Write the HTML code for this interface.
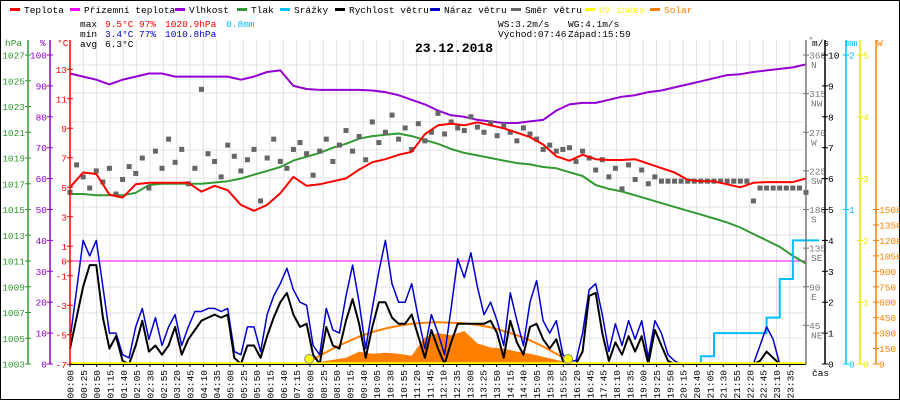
<!DOCTYPE html>
<html><head><meta charset="utf-8"><title>Meteo 23.12.2018</title>
<style>
html,body{margin:0;padding:0;background:#fff;}
svg{display:block;font-family:"Liberation Mono","DejaVu Sans Mono",monospace;}
</style></head>
<body>
<svg id="chart" width="900" height="400" viewBox="0 0 900 400" xmlns="http://www.w3.org/2000/svg">
<rect x="0.5" y="0.5" width="899" height="399" fill="#fff" stroke="#000"/>
<g id="grid"></g>
<g id="plot"></g>
<g id="axes"></g>
<g id="legend" font-size="9.5"></g>
<g font-size="9.5">
 <text x="80" y="27" fill="#000">max</text>
 <text x="105" y="27" fill="#ff0000">9.5°C</text>
 <text x="139" y="27" fill="#ff0000">97%</text>
 <text x="165" y="27" fill="#ff0000">1020.9hPa</text>
 <text x="226" y="27" fill="#00bfff">0.8mm</text>
 <text x="80" y="37" fill="#000">min</text>
 <text x="105" y="37" fill="#0000cc">3.4°C</text>
 <text x="139" y="37" fill="#0000cc">77%</text>
 <text x="165" y="37" fill="#0000cc">1010.8hPa</text>
 <text x="80" y="47" fill="#000">avg</text>
 <text x="105" y="47" fill="#000">6.3°C</text>
 <text x="498" y="27" fill="#000">WS:3.2m/s</text>
 <text x="568" y="27" fill="#000">WG:4.1m/s</text>
 <text x="498" y="37" fill="#000">Východ:07:46</text>
 <text x="568" y="37" fill="#000">Západ:15:59</text>
</g>
<text x="415" y="52" font-size="13" font-weight="bold" fill="#000">23.12.2018</text>
</svg>
<script>
const xLabels=["00:00","00:25","00:50","01:15","01:40","02:05","02:30","02:55","03:20","03:45","04:10","04:35","05:00","05:25","05:50","06:15","06:40","07:15","08:00","08:25","08:50","09:15","09:40","10:05","10:30","10:55","11:20","11:45","12:10","12:35","13:00","13:25","13:50","14:15","14:40","15:05","15:30","15:55","16:20","16:45","17:45","18:10","18:35","19:00","19:25","19:50","20:15","20:40","21:05","21:30","21:55","22:20","22:45","23:10","23:35"];
const tempC=[5.0,6.0,5.9,4.5,4.3,5.2,5.3,5.3,5.3,5.3,4.7,5.1,4.8,3.8,3.4,3.8,4.6,5.7,5.1,5.2,5.4,5.6,6.2,6.7,6.9,7.2,7.4,8.6,9.2,9.3,9.2,9.4,9.2,9.0,8.7,8.4,7.9,7.1,6.8,7.2,6.9,6.85,6.85,6.9,6.6,6.3,6.0,5.5,5.4,5.4,5.2,5.0,5.3,5.35,5.35,5.35,5.6];
const humidity=[94,93,92,90.5,92,93,94,94,93,93,93,93,93,92,93,94.5,95,90,89,88.7,88.7,88.7,88.7,88.5,88,87,85.5,84,82,80.5,80,79,78.5,78,78,78.5,79,82,84,84.5,84.5,85.5,86.5,87,88,88.5,89.5,90.5,91.5,92.5,93.5,93.8,94.5,95,95.5,96,97];
const pressure=[1016.2,1016.2,1016.1,1016.1,1016.1,1016.3,1016.9,1017.0,1017.0,1017.0,1017.0,1017.1,1017.2,1017.4,1017.7,1018.0,1018.3,1018.8,1019.1,1019.4,1019.8,1020.1,1020.5,1020.7,1020.8,1020.9,1020.7,1020.4,1020.1,1019.7,1019.4,1019.2,1019.0,1018.8,1018.6,1018.5,1018.3,1018.2,1017.9,1017.6,1016.9,1016.6,1016.4,1016.1,1015.8,1015.5,1015.2,1014.9,1014.6,1014.3,1014.0,1013.6,1013.1,1012.6,1012.1,1011.4,1010.8];
const rainMm=[0,0,0,0,0,0,0,0,0,0,0,0,0,0,0,0,0,0,0,0,0,0,0,0,0,0,0,0,0,0,0,0,0,0,0,0,0,0,0,0,0,0,0,0,0,0,0,0,0.05,0.2,0.2,0.2,0.2,0.3,0.55,0.8,0.8];
const solarW=[0,0,0,0,0,0,0,0,0,0,0,0,0,0,0,0,0,0,0,20,40,60,120,100,110,100,80,260,300,280,320,200,160,150,120,100,70,40,10,0,0,0,0,0,0,0,0,0,0,0,0,0,0,0,0,0,0];
const solarClear=[0,0,0,0,0,0,0,0,0,0,0,0,0,0,0,0,0,0,0,80,150,210,265,310,345,370,390,400,405,400,395,380,355,320,280,230,170,100,20];
const sunEvents=[18.2,37.9];
const windSpeed=[0.5,1.5,2.5,3.2,3.2,1.5,0.5,0.9,0.1,0,0.6,1.4,0.4,0.6,0.3,0.6,1.2,0.3,0.8,1.1,1.4,1.5,1.6,1.5,1.6,0.2,0,0.6,0.6,0.2,0.9,1.5,2.0,2.3,1.6,1.2,1.3,0.3,0,1.2,0.6,0.5,1.4,2.1,1.3,0.2,1.2,2.0,2.0,1.5,1.3,1.3,1.6,0.9,0.2,1.1,0.5,0,0.7,1.3,1.3,1.3,1.3,1.3,1.4,1.0,0.2,1.4,0.7,0.3,1.2,1.3,0.8,0.5,0.8,0.1,0,0,0.4,2.2,2.3,1.0,0.1,0.7,0.3,0.9,0.4,0.9,0,1.1,0.6,0.1,0,0,0,0,0,0,0,0,0,0,0,0,0,0.1,0.4,0.2,0,0,0,0,0];
const windGust=[0.8,2.4,4.0,3.5,4.0,2.5,1.0,1.0,0.3,0.2,1.2,1.8,0.8,1.5,0.6,1.2,1.6,0.6,1.2,1.7,1.7,1.8,1.8,1.7,1.8,0.4,0.3,1.2,1.2,0.4,1.6,2.2,2.6,3.1,2.4,2.0,1.9,0.6,0.3,1.8,1.1,1.0,2.2,3.2,2.0,0.5,1.8,3.0,4.0,2.6,2.0,2.0,2.6,1.5,0.5,1.6,1.0,0.3,1.8,3.4,2.8,3.6,2.5,1.6,2.0,1.4,0.6,2.3,1.4,0.6,2.0,2.7,1.4,1.0,1.4,0.3,0.1,0.1,1.0,2.4,2.6,1.6,0.4,1.3,0.6,1.4,0.8,1.4,0.2,1.4,1.0,0.3,0.1,0,0,0,0,0,0,0,0,0,0,0,0,0.6,1.2,0.8,0,0,0,0,0];
const windDir=[200,232,218,205,225,212,228,198,215,230,222,240,205,248,228,262,235,250,210,228,320,245,236,218,255,242,225,238,250,190,240,262,236,228,250,258,245,220,248,262,236,255,272,248,265,238,282,258,270,290,262,275,250,280,260,270,292,268,282,275,272,288,276,270,281,266,278,270,260,275,268,262,250,255,248,250,252,236,248,240,226,238,218,228,204,232,215,226,210,218,213,213,213,213,213,213,213,213,213,213,213,213,213,213,190,205,205,205,205,205,205,205,200];
const hpaTicks=[1003,1005,1007,1009,1011,1013,1015,1017,1019,1021,1023,1025,1027];
const humTicks=[0,10,20,30,40,50,60,70,80,90,100];
const tempTicks=[-7,-5,-3,-1,0,1,3,5,7,9,11,13];
const dirTicks=[[45,"NE"],[90,"E"],[135,"SE"],[180,"S"],[225,"SW"],[270,"W"],[315,"NW"],[360,"N"]];
const msTicks=[0,1,2,3,4,5,6,7,8,9,10];
const mmTicks=[0,1,2];
const uvTicks=[0,1,2,3,4,5];
const wTicks=[0,150,300,450,600,750,900,1050,1200,1350,1500];

const NS="http://www.w3.org/2000/svg";
const X0=70,DX=736/56,LDX=13.33,YB=364;
const xi=i=>X0+i*DX;
const xl=i=>X0+i*LDX;
const xh=h=>X0+h*DX/2;
const yT=t=>261-t*14.75;
const yH=h=>YB-h*3.09;
const yP=p=>YB-(p-1003)*12.875;
const yV=v=>YB-v*30.9;
const yD=d=>YB-d*0.8583;
const yW=w=>YB-w*0.103;
const yR=r=>YB-r*154.5;
const yU=u=>YB-u*61.8;
function mk(tag,attrs,parent){const e=document.createElementNS(NS,tag);for(const k in attrs)e.setAttribute(k,attrs[k]);parent.appendChild(e);return e;}
const grid=document.getElementById('grid'),plot=document.getElementById('plot'),axes=document.getElementById('axes'),legend=document.getElementById('legend');

for(let i=0;i<xLabels.length;i++){
 const l=mk('line',{x1:xl(i),x2:xl(i),y1:40,y2:YB,stroke:'#e4e0e4','stroke-width':1},grid);
 
 
}
[65,93,122,150,178,207,235,261,287,313,338].forEach(y=>{
 const l=mk('line',{x1:X0,x2:806,y1:y,y2:y,stroke:'#e4e0e4','stroke-width':1},grid);
 
 
});

function poly(vals,xf,yf,color,w,name){
 const pts=vals.map((v,i)=>xf(i).toFixed(1)+','+yf(v).toFixed(1)).join(' ');
 const p=mk('polyline',{points:pts,fill:'none',stroke:color,'stroke-width':w,'stroke-linejoin':'round'},plot);
 
 
 return p;
}
function stepPoly(vals,xf,yf,color,w,name){
 let pts=[];vals.forEach((v,i)=>{pts.push(xf(i)+','+yf(v));pts.push(xf(i+1)+','+yf(v));});
 const p=mk('polyline',{points:pts.join(' '),fill:'none',stroke:color,'stroke-width':w},plot);
 
 
}
{
 let pts=[xi(0)+','+YB];solarW.forEach((v,i)=>pts.push(xi(i).toFixed(1)+','+yW(v).toFixed(1)));pts.push(xi(solarW.length-1)+','+YB);
 const a=mk('polygon',{points:pts.join(' '),fill:'#ff8000'},plot);
 
 
}
{
 const pts=[];solarClear.forEach((v,i)=>{if(i>=Math.floor(sunEvents[0]))pts.push(xi(i).toFixed(1)+','+yW(v).toFixed(1));});
 const p=mk('polyline',{points:pts.join(' '),fill:'none',stroke:'#ff8000','stroke-width':2},plot);
 
 
}
{const l=mk('line',{x1:X0,x2:806,y1:yT(0),y2:yT(0),stroke:'#ff00ff','stroke-width':1},plot);
 
 }
poly(humidity,xi,yH,'#9400d3',2,'humidity-line');
poly(pressure,xi,yP,'#339933',2,'pressure-line');
windDir.forEach((d,h)=>{
 const r=mk('rect',{x:xh(h)-2.5,y:yD(d)-2.5,width:5,height:5,fill:'#666'},plot);
 
 
});
poly(tempC,xi,yT,'#ff0000',2,'temperature-line');
stepPoly(rainMm,xi,yR,'#00bfff',2,'rain-line');
poly(windGust,xh,yV,'#0000cc',1.5,'wind-gust-line');
poly(windSpeed,xh,yV,'#000',2,'wind-speed-line');
{const l=mk('line',{x1:X0,x2:806,y1:YB-0.5,y2:YB-0.5,stroke:'#ffff00','stroke-width':2.5},plot);
 
 }
sunEvents.forEach(s=>{
 const c=mk('circle',{cx:xi(s),cy:359,r:4.5,fill:'#ffff00',stroke:'#888','stroke-width':1},plot);
 
 
});

function axis(x,color,ticks,yf,labelFn,side,name){
 const g=mk('g',{},axes);
 
 
 mk('line',{x1:x,x2:x,y1:40,y2:YB,stroke:color,'stroke-width':1.5},g);
 ticks.forEach(t=>{
  const v=Array.isArray(t)?t[0]:t;const y=yf(v);
  mk('line',{x1:x-3,x2:x+3,y1:y,y2:y,stroke:color},g);
  const tx=mk('text',{x:side==='l'?x-3:x+3,y:y+3.5,fill:color,'font-size':9.5,'text-anchor':side==='l'?'end':'start'},g);
  tx.textContent=labelFn(t);
  
  
  if(Array.isArray(t)){const t2=mk('text',{x:x+5,y:y+13,fill:color,'font-size':9.5},g);t2.textContent=t[1];
   
   }
 });
}
axis(28,'#339933',hpaTicks,yP,t=>t,'l','pressure-axis');
axis(50,'#9400d3',humTicks,yH,t=>t,'l','humidity-axis');
axis(70,'#ff0000',tempTicks,yT,t=>t,'l','temperature-axis');
axis(806,'#777',dirTicks,yD,t=>t[0],'r','direction-axis');
axis(825,'#000',msTicks,yV,t=>t,'r','wind-axis');
axis(846,'#00bfff',mmTicks,yR,t=>t,'r','rain-axis');
axis(860,'#e8e800',uvTicks,yU,t=>t,'r','uv-axis');
axis(876,'#ff8000',wTicks,yW,t=>t,'r','solar-axis');
[["hPa",5,46,'#339933'],["%",40,46,'#9400d3'],["°C",57,46,'#ff0000'],["°",808,43,'#777'],["m/s",812,46,'#000'],["mm",846,46,'#00bfff'],["W",877,46,'#ff8000'],["čas",812,376,'#000']].forEach(u=>{
 const t=mk('text',{x:u[1],y:u[2],fill:u[3],'font-size':9.5},axes);t.textContent=u[0];
 
 
});
mk('line',{x1:X0,x2:806,y1:YB+0.5,y2:YB+0.5,stroke:'#000'},axes);
xLabels.forEach((lab,i)=>{
 const x=xl(i);
 mk('line',{x1:x,x2:x,y1:YB,y2:YB+3,stroke:'#000'},axes);
 const t=mk('text',{x:0,y:0,fill:'#000','font-size':9.5,'text-anchor':'end',transform:`translate(${x+3.5},${YB+6}) rotate(-90)`},axes);
 t.textContent=lab;
 
 
});

[["Teplota",10,'#ff0000'],["Přízemní teplota",70,'#ff00ff'],["Vlhkost",175,'#9400d3'],["Tlak",237,'#339933'],["Srážky",280,'#00bfff'],["Rychlost větru",335,'#000'],["Náraz větru",430,'#0000cc'],["Směr větru",511,'#666'],["UV index",585,'#ffff00'],["Solar",650,'#ff8000']].forEach(l=>{
 const g=mk('g',{},legend);
 
 
 mk('rect',{x:l[1],y:8,width:10,height:3,fill:l[2]},g);
 const t=mk('text',{x:l[1]+14,y:13,fill:(l[2]==='#ffff00'||l[2]==='#ff8000')?l[2]:'#000'},g);
 t.textContent=l[0];
});
</script>
</body></html>
